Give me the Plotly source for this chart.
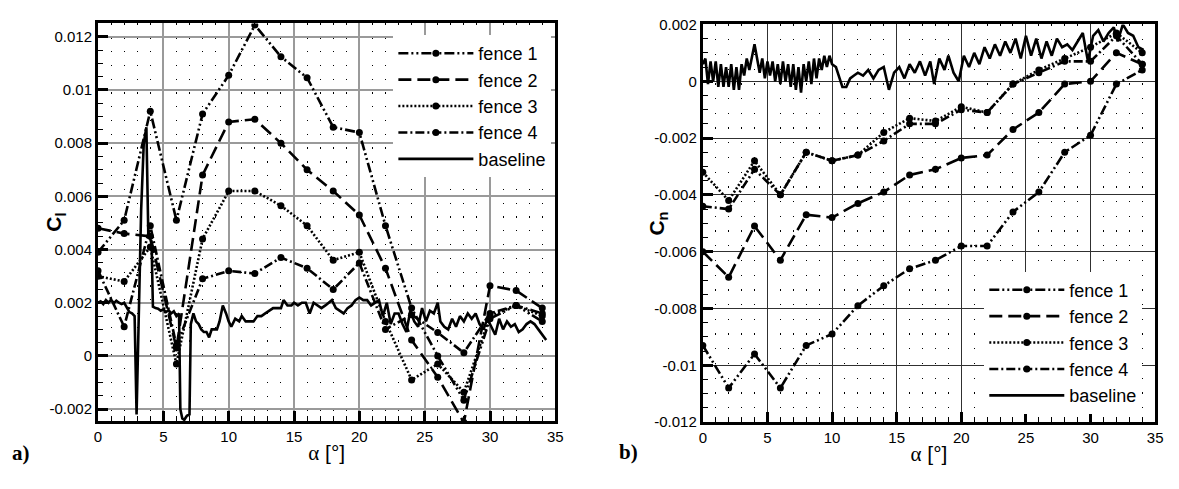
import plotly.graph_objects as go

W, H = 1179, 489

# ---------------- data ----------------
fence_alpha = [0, 2, 4, 6, 8, 10, 12, 14, 16, 18, 20, 22, 24, 26, 28, 30, 32, 34]

cl_fence1 = [0.0039, 0.0051, 0.0092, 0.0051, 0.0091, 0.01055, 0.01244, 0.01125, 0.01046, 0.0086,
             0.0084, 0.0049, 0.0018, 0.0000, -0.00166, 0.0014, 0.0019, 0.0013]
cl_fence2 = [0.0048, 0.0046, 0.0045, 0.0003, 0.0068, 0.0088, 0.0089, 0.0080, 0.0070, 0.0062,
             0.0053, 0.0033, 0.0006, -0.0008, -0.0025, 0.00264, 0.00246, 0.0018]
cl_fence3 = [0.0030, 0.0028, 0.0041, -0.0003, 0.0044, 0.0062, 0.0062, 0.00565, 0.0049, 0.0036,
             0.0039, 0.0013, -0.0009, -0.0003, -0.00136, 0.0015, 0.0019, 0.0015]
cl_fence4 = [0.0032, 0.0011, 0.0049, 0.0004, 0.0029, 0.0032, 0.0031, 0.0037, 0.0033, 0.0025,
             0.0035, 0.0010, 0.00155, 0.00088, 0.00012, 0.0016, 0.0019, 0.0016]

cl_base_alpha = [0.0, 0.2, 0.4, 0.6, 0.8, 1.0, 1.2, 1.4, 1.6, 1.8, 2.0, 2.2, 2.4, 2.6, 2.8, 2.95,
                 3.1, 3.3, 3.5, 3.7, 3.85, 4.0, 4.1, 4.2, 4.4, 4.6, 4.8, 5.0, 5.2, 5.4, 5.6, 5.8,
                 6.0, 6.2, 6.3, 6.45, 6.6, 6.8, 7.0, 7.1, 7.3, 7.5, 7.7, 7.9, 8.1, 8.3, 8.5, 8.7,
                 8.9, 9.1, 9.3, 9.55, 9.8, 10.0, 10.2, 10.5, 10.8, 11.0, 11.3, 11.6, 11.9, 12.2,
                 12.5, 12.8, 13.1, 13.4, 13.7, 14.0, 14.2, 14.5, 14.8, 15.0, 15.3, 15.6, 15.9,
                 16.2, 16.5, 16.8, 17.1, 17.4, 17.7, 17.9, 18.2, 18.5, 18.8, 19.1, 19.4, 19.7,
                 20.0, 20.3, 20.6, 20.9, 21.2, 21.5, 21.8, 22.1, 22.4, 22.7, 23.0, 23.3, 23.6,
                 23.9, 24.2, 24.5, 24.8, 25.1, 25.4, 25.7, 26.0, 26.2, 26.5, 26.8, 27.1, 27.4,
                 27.7, 28.0, 28.3, 28.6, 28.9, 29.2, 29.5, 29.8, 30.1, 30.4, 30.7, 31.0, 31.3,
                 31.6, 31.9, 32.2, 32.5, 32.8, 33.1, 33.4, 33.7, 34.0, 34.3]
cl_base = [0.00200, 0.00205, 0.00195, 0.00210, 0.00200, 0.00212, 0.00198, 0.00208, 0.00200, 0.00195,
           0.00200, 0.00180, 0.00165, 0.00160, 0.00150, -0.00220, 0.00150, 0.00550, 0.00800, 0.00860,
           0.00450, 0.00440, 0.00420, 0.00185, 0.00180, 0.00178, 0.00170, 0.00175, 0.00165, 0.00172,
           0.00160, 0.00168, 0.00150, 0.00160, -0.00200, -0.00235, -0.00240, -0.00225, -0.00220,
           0.00120, 0.00160, 0.00130, 0.00120, 0.00100, 0.00090, 0.00090, 0.00070, 0.00100, 0.00100,
           0.00100, 0.00130, 0.00190, 0.00160, 0.00130, 0.00110, 0.00140, 0.00130, 0.00150, 0.00130,
           0.00130, 0.00130, 0.00150, 0.00150, 0.00160, 0.00170, 0.00180, 0.00180, 0.00180, 0.00210,
           0.00190, 0.00190, 0.00200, 0.00190, 0.00200, 0.00200, 0.00160, 0.00200, 0.00190, 0.00180,
           0.00190, 0.00200, 0.00210, 0.00180, 0.00170, 0.00160, 0.00180, 0.00190, 0.00210, 0.00220,
           0.00210, 0.00210, 0.00190, 0.00200, 0.00210, 0.00150, 0.00200, 0.00120, 0.00160, 0.00160,
           0.00120, 0.00090, 0.00170, 0.00130, 0.00110, 0.00180, 0.00130, 0.00170, 0.00160, 0.00200,
           0.00130, 0.00110, 0.00100, 0.00140, 0.00110, 0.00150, 0.00130, 0.00160, 0.00140, 0.00160,
           0.00120, 0.00100, 0.00140, 0.00110, 0.00080, 0.00140, 0.00100, 0.00130, 0.00110, 0.00120,
           0.00090, 0.00100, 0.00120, 0.00130, 0.00120, 0.00100, 0.00080, 0.00060]

cn_fence1 = [-0.0093, -0.0108, -0.0096, -0.0108, -0.0093, -0.0089, -0.0079, -0.0072, -0.0066, -0.0063,
             -0.0058, -0.0058, -0.0046, -0.0039, -0.0025, -0.0019, -0.0001, 0.0004]
cn_fence2 = [-0.0060, -0.0069, -0.0051, -0.0063, -0.0047, -0.0048, -0.0043, -0.0039, -0.0033, -0.0031,
             -0.0027, -0.0026, -0.0017, -0.0011, -0.0001, 0.0000, 0.0010, 0.0006]
cn_fence3 = [-0.0032, -0.0042, -0.0028, -0.0040, -0.0025, -0.0028, -0.0026, -0.0018, -0.0013, -0.0014,
             -0.0009, -0.0011, -0.0001, 0.0004, 0.0008, 0.0012, 0.0017, 0.0010]
cn_fence4 = [-0.0044, -0.0045, -0.0031, -0.0040, -0.0025, -0.0028, -0.0026, -0.0021, -0.0015, -0.0015,
             -0.0010, -0.0011, -0.0001, 0.0003, 0.0007, 0.0007, 0.0016, 0.0006]

cn_base_alpha = [0.0, 0.2, 0.4, 0.6, 0.8, 1.0, 1.2, 1.4, 1.6, 1.8, 2.0, 2.2, 2.4, 2.6, 2.8, 3.0,
                 3.2, 3.4, 3.6, 3.8, 4.0, 4.2, 4.4, 4.6, 4.8, 5.0, 5.2, 5.4, 5.6, 5.8, 6.0, 6.2,
                 6.4, 6.6, 6.8, 7.0, 7.2, 7.4, 7.6, 7.8, 8.0, 8.2, 8.4, 8.6, 8.8, 9.0, 9.2, 9.4,
                 9.6, 9.8, 10.0, 10.3, 10.6, 10.8, 11.1, 11.4, 11.7, 12.0, 12.4, 12.8, 13.2, 13.6,
                 14.0, 14.4, 14.8, 15.2, 15.6, 16.0, 16.4, 16.8, 17.2, 17.6, 17.9, 18.3, 18.7,
                 19.0, 19.4, 19.8, 20.2, 20.6, 21.0, 21.4, 21.8, 22.2, 22.6, 23.0, 23.4, 23.8,
                 24.2, 24.6, 25.0, 25.4, 25.8, 26.2, 26.6, 27.0, 27.4, 27.8, 28.2, 28.6, 29.0,
                 29.4, 29.8, 30.2, 30.6, 31.0, 31.4, 31.8, 32.1, 32.5, 32.9, 33.3, 33.7, 34.1]
cn_base = [0.0006, 0.0008, -0.0001, 0.0007, 0.0000, 0.0007, -0.0002, 0.0006, -0.0002, 0.0005,
           -0.0002, 0.0006, -0.0003, 0.0005, -0.0003, 0.0006, 0.0002, 0.0008, 0.0004, 0.0009,
           0.0013, 0.0008, 0.0003, 0.0008, 0.0001, 0.0007, 0.0002, 0.0007, 0.0000, 0.0006,
           -0.0001, 0.0007, 0.0000, 0.0006, -0.0002, 0.0006, -0.0003, 0.0005, -0.0004, 0.0006,
           0.0000, 0.0007, -0.0001, 0.0008, 0.0001, 0.0008, 0.0004, 0.0009, 0.0005, 0.0009,
           0.0006, 0.0005, 0.0001, -0.0002, -0.0002, 0.0001, 0.0002, 0.0003, 0.0002, 0.0004,
           0.0001, 0.0004, 0.0005, -0.0003, 0.0003, 0.0005, 0.0001, 0.0006, 0.0003, 0.0007,
           0.0002, 0.0007, -0.0001, 0.0008, 0.0004, 0.0009, 0.0003, 0.0000, 0.0009, 0.0005,
           0.0010, 0.0006, 0.0012, 0.0008, 0.0013, 0.0009, 0.0014, 0.0010, 0.0015, 0.0008,
           0.0016, 0.0009, 0.0015, 0.0008, 0.0014, 0.0009, 0.0015, 0.0012, 0.0013, 0.0011,
           0.0014, 0.0017, 0.0007, 0.0016, 0.0018, 0.0014, 0.0017, 0.0019, 0.0014, 0.0020,
           0.0017, 0.0016, 0.0012, 0.0011]

x_ticks = [0, 5, 10, 15, 20, 25, 30, 35]
x_ticklabels = ["0", "5", "10", "15", "20", "25", "30", "35"]
cl_ticks = [-0.002, 0, 0.002, 0.004, 0.006, 0.008, 0.01, 0.012]
cl_ticklabels = ["-0.002", "0", "0.002", "0.004", "0.006", "0.008", "0.01", "0.012"]
cn_ticks = [-0.012, -0.01, -0.008, -0.006, -0.004, -0.002, 0, 0.002]
cn_ticklabels = ["-0.012", "-0.01", "-0.008", "-0.006", "-0.004", "-0.002", "0", "0.002"]

series_names = ["fence 1", "fence 2", "fence 3", "fence 4", "baseline"]

# ---------------- layout geometry (pixels) ----------------
L_box = (95, 557, 15, 427)     # x0, x1, ytop, ybottom
R_box = (706, 1163, 16, 428)
CL_RANGE = [-0.00245, 0.0125]
CN_RANGE = [-0.012, 0.002]
X_RANGE = [0, 35]

def xdom(b):
    return [b[0] / W, b[1] / W]

def ydom(b):
    return [(H - b[3]) / H, (H - b[2]) / H]

dashes = {
    "fence 1": "10px,3px,2px,3px,2px,3px",
    "fence 2": "13px,6px",
    "fence 3": "2px,2px",
    "fence 4": "9px,3px,2px,3px",
}

FONT = "Liberation Sans, Arial, sans-serif"
fig = go.Figure()

def add_panel(ys_f, alpha_b, y_b, xa, ya, legend):
    for name, ys in zip(series_names[:4], ys_f):
        fig.add_trace(go.Scatter(
            x=fence_alpha, y=ys, mode="lines+markers", name=name,
            xaxis=xa, yaxis=ya, legend=legend,
            line=dict(color="black", width=2.6, dash=dashes[name]),
            marker=dict(color="black", size=7, symbol="circle"),
        ))
    fig.add_trace(go.Scatter(
        x=alpha_b, y=y_b, mode="lines", name=series_names[4],
        xaxis=xa, yaxis=ya, legend=legend,
        line=dict(color="black", width=2.6),
    ))

add_panel([cl_fence1, cl_fence2, cl_fence3, cl_fence4], cl_base_alpha, cl_base, "x", "y", "legend")
add_panel([cn_fence1, cn_fence2, cn_fence3, cn_fence4], cn_base_alpha, cn_base, "x2", "y2", "legend2")

def dot_dash(box, rng):
    h = box[3] - box[2]
    step = h * 0.0005 / (rng[1] - rng[0])
    return "1.3px,%.3fpx" % (step - 1.3)

def xaxis_cfg(box, rng_y, anchor, gridcolor, gridwidth):
    return dict(
        domain=xdom(box), range=X_RANGE, anchor=anchor,
        tickvals=x_ticks, ticktext=x_ticklabels,
        showline=True, linecolor="black", linewidth=3, mirror=True,
        ticks="inside", ticklen=10, tickwidth=2.5, tickcolor="black",
        showgrid=True, gridcolor=gridcolor, gridwidth=gridwidth,
        zeroline=False,
        tickfont=dict(family=FONT, size=15, color="black"),
        minor=dict(dtick=1, ticks="inside", ticklen=5, tickwidth=1.2, tickcolor="black",
                   showgrid=True, gridcolor="black", gridwidth=1.3,
                   griddash=dot_dash(box, rng_y)),
        title=dict(text="<span style='font-family:Liberation Serif'>α</span> [°]",
                   font=dict(family=FONT, size=21, color="black"), standoff=2),
    )

def yaxis_cfg(box, rng, anchor, tv, tt, gridcolor, gridwidth):
    return dict(
        domain=ydom(box), range=rng, anchor=anchor,
        tickvals=tv, ticktext=tt,
        showline=True, linecolor="black", linewidth=3, mirror=True,
        ticks="inside", ticklen=10, tickwidth=2.5, tickcolor="black",
        showgrid=True, gridcolor=gridcolor, gridwidth=gridwidth,
        zeroline=False,
        tickfont=dict(family=FONT, size=15, color="black"),
        minor=dict(dtick=0.0005, ticks="inside", ticklen=5, tickwidth=1.2, tickcolor="black",
                   showgrid=False),
    )

fig.update_layout(
    width=W, height=H,
    margin=dict(l=0, r=0, t=0, b=0),
    paper_bgcolor="white", plot_bgcolor="white",
    font=dict(family=FONT, color="black"),
    xaxis=xaxis_cfg(L_box, CL_RANGE, "y", "#9a9a9a", 1.6),
    yaxis=yaxis_cfg(L_box, CL_RANGE, "x", cl_ticks, cl_ticklabels, "#9a9a9a", 1.6),
    xaxis2=xaxis_cfg(R_box, CN_RANGE, "y2", "#303030", 1.1),
    yaxis2=yaxis_cfg(R_box, CN_RANGE, "x2", cn_ticks, cn_ticklabels, "#303030", 1.1),
    legend=dict(x=553 / W, xanchor="right", y=1 - 27 / H, yanchor="top",
                bgcolor="white", borderwidth=0, itemwidth=75, tracegroupgap=0,
                font=dict(family=FONT, size=18, color="black")),
    legend2=dict(x=1150 / W, xanchor="right", y=1 - 272 / H, yanchor="top",
                 bgcolor="white", borderwidth=0, itemwidth=75, tracegroupgap=0,
                 font=dict(family=FONT, size=18, color="black")),
    showlegend=True,
)

ann_font = dict(family=FONT, size=21, color="black")
fig.add_annotation(text="<b>C<sub>l</sub></b>", x=52 / W, y=1 - 221 / H, xref="paper", yref="paper",
                   textangle=-90, showarrow=False, font=ann_font, xanchor="center", yanchor="middle")
fig.add_annotation(text="<b>C<sub>n</sub></b>", x=661 / W, y=1 - 222 / H, xref="paper", yref="paper",
                   textangle=-90, showarrow=False, font=ann_font, xanchor="center", yanchor="middle")
lab_font = dict(family="Liberation Serif, Times New Roman, serif", size=21, color="black")
fig.add_annotation(text="<b>a)</b>", x=17 / W, y=1 - 460 / H, xref="paper", yref="paper",
                   showarrow=False, font=lab_font, xanchor="center", yanchor="middle")
fig.add_annotation(text="<b>b)</b>", x=631 / W, y=1 - 459 / H, xref="paper", yref="paper",
                   showarrow=False, font=lab_font, xanchor="center", yanchor="middle")

fig.write_html("out.html")
